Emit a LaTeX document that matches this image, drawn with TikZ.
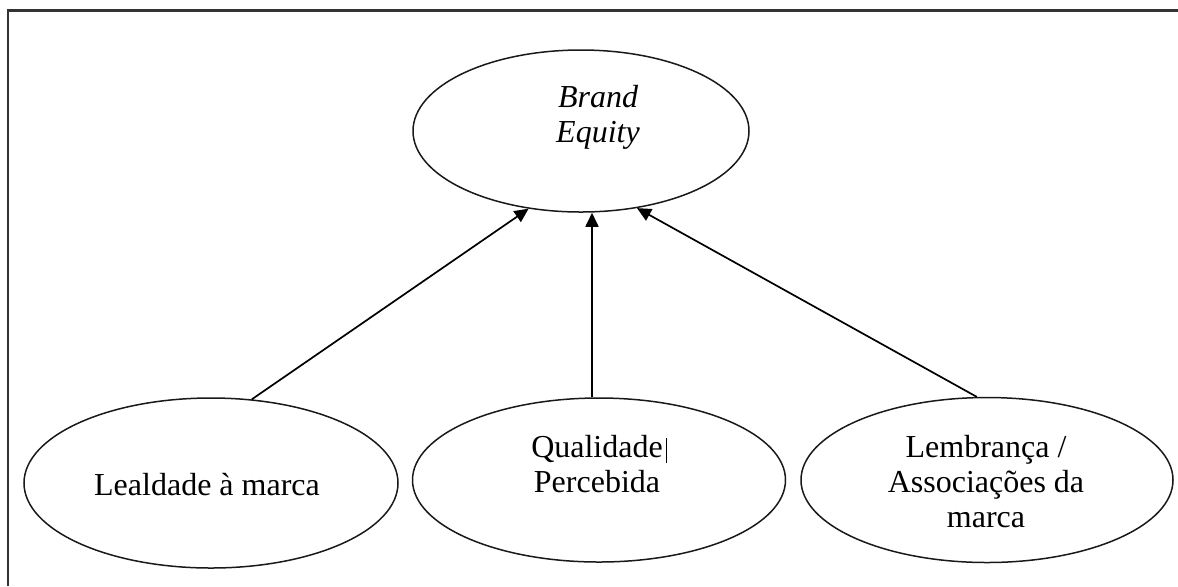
\documentclass[tikz,border=0pt]{standalone}
\usepackage{fontspec}
\setmainfont{Liberation Serif}
\usetikzlibrary{shapes.geometric,arrows.meta}
\begin{document}
\begin{tikzpicture}[x=0.5pt,y=-0.5pt,
  oval/.style={draw=black!90,line width=0.75pt,ellipse,inner sep=0pt},
  txt/.style={align=center,inner sep=0pt,anchor=base,font=\fontsize{16}{17.5}\selectfont},
  arr/.style={draw=black,line width=0.85pt,-{Triangle[length=7pt,width=6.5pt]}},
  frame/.style={draw=black!80,line width=1.2pt}]
\useasboundingbox (0,0) rectangle (1178,586);
\draw[frame] (8,586) -- (8,10.5) -- (1178,10.5);
\node[oval,minimum width=168pt,minimum height=81pt] (be) at (581,131) {};
\node[oval,minimum width=187pt,minimum height=85pt] (ll) at (211,483) {};
\node[oval,minimum width=186.5pt,minimum height=82pt] (qp) at (599,480) {};
\node[oval,minimum width=186pt,minimum height=82.5pt] (lm) at (987,480) {};
\node[txt] (bet) at (598,142) {\itshape Brand\\\itshape Equity};
\node[txt] (llt) at (207,495) {Lealdade à marca};
\node[txt] (qpt) at (597,492) {Qualidade\rlap{\hspace{1.5pt}\rule[-3pt]{0.5pt}{12.5pt}}\\Percebida};
\node[txt] (lmt) at (986,527) {Lembrança /\\Associações da\\marca};
\draw[arr] (ll.64) -- (be.236);
\draw[arr] ([xshift=-3.5pt]qp.north) -- ([xshift=-3.5pt]qp.north |- be.south);
\draw[arr] (lm.97) -- (be.306);
\end{tikzpicture}
\end{document}
